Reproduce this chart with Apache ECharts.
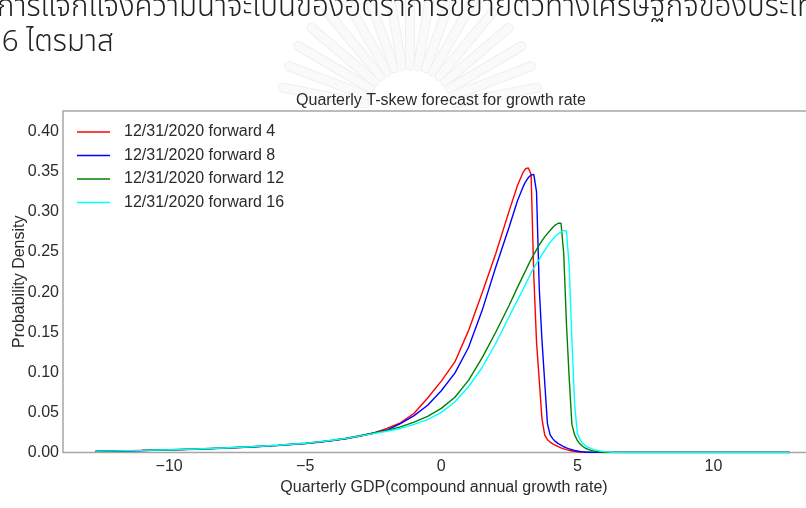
<!DOCTYPE html>
<html>
<head>
<meta charset="utf-8">
<script src="https://cdn.jsdelivr.net/npm/echarts@6/dist/echarts.min.js"></script>
<style>
  html, body { margin: 0; padding: 0; background: #fff; }
  #chart { width: 806px; height: 508px; }
</style>
</head>
<body>
<div id="chart"></div>
<script>
// Growth-rate grid (compound annual %, quarterly GDP)
const growth = [-12.7, -12, -11, -10, -9, -8, -7, -6, -5, -4.5, -4, -3.5, -3,
  -2.5, -2, -1.5, -1, -0.5, 0, 0.5, 1, 1.5, 2, 2.5, 2.8, 3.0,
  3.1, 3.2, 3.3, 3.4, 3.5, 3.6, 3.7, 3.8, 3.9, 4.0, 4.1, 4.2, 4.3, 4.4, 4.5, 4.6, 4.7, 4.8,
  4.9, 5.0, 5.1, 5.2, 5.3, 5.4, 5.5, 5.6,
  5.8, 6.0, 6.3, 6.6, 7, 8, 9, 10, 11, 12, 12.8];

// Density of each forecast horizon on the grid above
const forward4 = [0.0016, 0.0019, 0.0025, 0.0032, 0.0041, 0.0053, 0.0068, 0.0088, 0.0112, 0.0128, 0.0148, 0.0172, 0.0203,
  0.024, 0.030, 0.037, 0.049, 0.068, 0.089, 0.113, 0.152, 0.199, 0.248, 0.302, 0.333, 0.349,
  0.354, 0.355, 0.347, 0.22, 0.138, 0.090, 0.042, 0.022, 0.016, 0.013, 0.0108, 0.009, 0.0072, 0.0057, 0.0045, 0.0035, 0.0026, 0.0019,
  0.0014, 0.001, 0.0007, 0.0005, 0.0004, 0.0003, 0.0002, 0.0001,
  0, 0, 0, 0, 0, 0, 0, 0, 0, 0, 0];
const forward8 = [0.0016, 0.0019, 0.0025, 0.0033, 0.0042, 0.0054, 0.0069, 0.0089, 0.0113, 0.013, 0.015, 0.0175, 0.0205,
  0.024, 0.028, 0.036, 0.046, 0.059, 0.077, 0.099, 0.131, 0.177, 0.231, 0.282, 0.314, 0.331,
  0.338, 0.343, 0.346, 0.347, 0.325, 0.205, 0.14, 0.088, 0.036, 0.022, 0.017, 0.0135, 0.011, 0.0092, 0.0072, 0.0058, 0.0045, 0.0034,
  0.0025, 0.0018, 0.0013, 0.0009, 0.0006, 0.0004, 0.0003, 0.0002,
  0.0001, 0, 0, 0, 0, 0, 0, 0, 0, 0, 0];
const forward12 = [0.0017, 0.002, 0.0026, 0.0034, 0.0044, 0.0056, 0.0072, 0.0092, 0.0117, 0.0133, 0.0153, 0.0178, 0.021,
  0.0245, 0.0275, 0.032, 0.038, 0.045, 0.055, 0.069, 0.090, 0.118, 0.150, 0.184, 0.206, 0.220,
  0.227, 0.234, 0.241, 0.247, 0.253, 0.259, 0.264, 0.269, 0.273, 0.277, 0.281, 0.284, 0.286, 0.286, 0.248, 0.160, 0.093, 0.035,
  0.022, 0.015, 0.0105, 0.0075, 0.0053, 0.0038, 0.0026, 0.0018,
  0.0008, 0.0004, 0.0001, 0, 0, 0, 0, 0, 0, 0, 0];
const forward16 = [0.0017, 0.002, 0.0026, 0.0034, 0.0044, 0.0056, 0.0071, 0.0091, 0.0116, 0.0132, 0.0152, 0.0176, 0.0205,
  0.0235, 0.0265, 0.030, 0.035, 0.041, 0.050, 0.063, 0.082, 0.106, 0.136, 0.170, 0.190, 0.203,
  0.210, 0.217, 0.224, 0.230, 0.236, 0.241, 0.247, 0.252, 0.257, 0.262, 0.266, 0.270, 0.273, 0.275, 0.277, 0.276, 0.232, 0.140,
  0.06, 0.024, 0.016, 0.011, 0.0085, 0.0064, 0.005, 0.0036,
  0.002, 0.0011, 0.0004, 0.0001, 0, 0, 0, 0, 0, 0, 0];

const seriesNames = ['12/31/2020 forward 4', '12/31/2020 forward 8', '12/31/2020 forward 12', '12/31/2020 forward 16'];
const seriesColors = ['#ff0000', '#0000ff', '#008000', '#00ffff'];
const xTicks = [-10, -5, 0, 5, 10];
const yTicks = [0, 0.05, 0.10, 0.15, 0.20, 0.25, 0.30, 0.35, 0.40];

const chartTitle = 'Quarterly T-skew forecast for growth rate';
const xName = 'Quarterly GDP(compound annual growth rate)';
const yName = 'Probability Density';
const pageLine1 = 'การแจกแจงความน่าจะเป็นของอัตราการขยายตัวทางเศรษฐกิจของประเทศ';
const pageLine2 = '16 ไตรมาส';

const textColor = '#2b2b2b';
const spineColor = '#a6a6a6';
const font = '"Liberation Sans", Arial, sans-serif';
const thaiFont = '"Noto Sans Thai", "TH Sarabun New", Garuda, Loma, "Noto Sans", sans-serif';

const densities = [forward4, forward8, forward12, forward16];

// faint emblem behind the heading: a fan of light rays
function emblemRays() {
  const cx = 410, cy = 112, rays = [];
  for (let k = 0; k < 17; k++) {
    const ang = Math.PI * (1.06 + k * 0.055);
    rays.push({
      type: 'rect', silent: true, z: -10,
      x: cx, y: cy, rotation: -ang, originX: 0, originY: 0,
      shape: { x: 42, y: -4.5, width: 92, height: 9, r: 4.5 },
      style: { fill: '#fafafa', stroke: '#efefef', lineWidth: 1 }
    });
  }
  return rays;
}

const chart = echarts.init(document.getElementById('chart'), null, { renderer: 'canvas' });

chart.setOption({
  animation: false,
  backgroundColor: '#ffffff',
  grid: {
    left: 63, top: 111, right: -19, bottom: 55.5,
    outerBoundsMode: 'none',
    containLabel: false,
    show: true, borderColor: spineColor, borderWidth: 1.5, backgroundColor: 'transparent'
  },
  graphic: emblemRays().concat([
    { type: 'text', left: -3, top: -5, silent: true,
      style: { text: pageLine1, font: '300 29.5px ' + thaiFont, fill: '#222' } },
    { type: 'text', left: -15, top: 30, silent: true,
      style: { text: pageLine2, font: '300 29.5px ' + thaiFont, fill: '#222' } },
    { type: 'text', x: 441, y: 101, silent: true,
      style: { text: chartTitle, font: '16px ' + font, fill: textColor, align: 'center', verticalAlign: 'middle' } }
  ]),
  legend: {
    data: seriesNames,
    orient: 'vertical',
    left: 77, top: 124,
    icon: 'path://M0,0 H33 V1.5 H0 Z',
    itemWidth: 33, itemHeight: 14, itemGap: 7.5,
    textStyle: { fontFamily: font, fontSize: 16, color: textColor, padding: [0, 0, 0, 9] },
    padding: 0
  },
  xAxis: {
    type: 'value', min: -13.9, max: 14.1,
    name: xName, nameLocation: 'middle', nameGap: 24,
    nameTextStyle: { fontFamily: font, fontSize: 16, color: textColor },
    axisLine: { show: false },
    axisTick: { show: false },
    splitLine: { show: false },
    axisLabel: {
      customValues: xTicks, margin: 6,
      fontFamily: font, fontSize: 16, color: textColor,
      formatter: v => String(v).replace('-', '\u2212')
    }
  },
  yAxis: {
    type: 'value', min: 0, max: 0.426,
    name: yName, nameLocation: 'middle', nameGap: 35, nameRotate: 90,
    nameMoveOverlap: false,
    nameTextStyle: { fontFamily: font, fontSize: 16, color: textColor },
    axisLine: { show: false },
    axisTick: { show: false },
    splitLine: { show: false },
    axisLabel: {
      customValues: yTicks, margin: 4,
      fontFamily: font, fontSize: 16, color: textColor,
      formatter: v => v.toFixed(2)
    }
  },
  series: densities.map((d, i) => ({
    name: seriesNames[i],
    type: 'line',
    data: growth.map((g, j) => [g, d[j]]),
    symbol: 'none',
    smooth: false,
    color: seriesColors[i],
    lineStyle: { width: 1.4, color: seriesColors[i] },
    clip: true
  }))
});
</script>
</body>
</html>
